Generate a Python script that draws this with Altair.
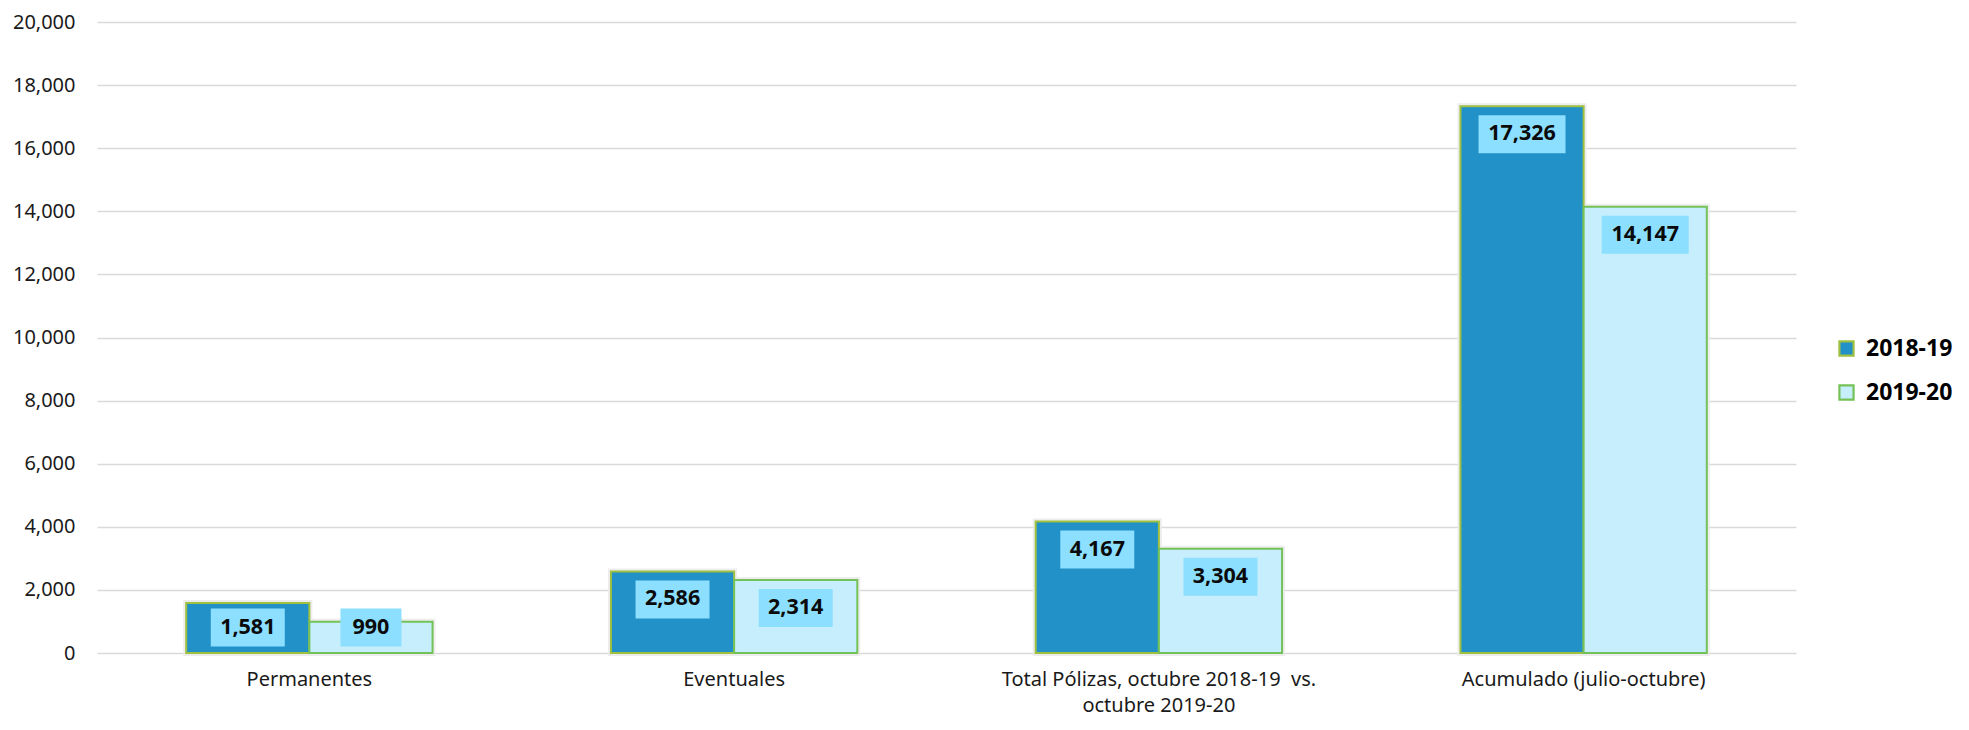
import altair as alt
import pandas as pd

categories = [
    "Permanentes",
    "Eventuales",
    "Total Pólizas, octubre 2018-19  vs.\noctubre 2019-20",
    "Acumulado (julio-octubre)",
]
series = ["2018-19", "2019-20"]
values_2018_19 = [1581, 2586, 4167, 17326]
values_2019_20 = [990, 2314, 3304, 14147]
tick_values = [0, 2000, 4000, 6000, 8000, 10000, 12000, 14000, 16000, 18000, 20000]

rows = []
for i, c in enumerate(categories):
    rows.append({"cat": c, "serie": series[0], "value": values_2018_19[i]})
    rows.append({"cat": c, "serie": series[1], "value": values_2019_20[i]})
df = pd.DataFrame(rows)

FONT = "Noto Sans"
W, H = 1699, 631
YMAX = 20000
px = YMAX / H  # data units per pixel

x_enc = alt.X(
    "cat:N",
    sort=categories,
    title=None,
    scale=alt.Scale(paddingInner=0.42, paddingOuter=0.21),
    axis=alt.Axis(
        labelExpr="split(replace(datum.label, '  ', '\u00a0 '), '\\n')",
        labelAngle=0,
        labelFontSize=20,
        labelFont=FONT,
        labelColor="#1a1a1a",
        labelPadding=16,
        labelLineHeight=26,
        labelBaseline="top",
        labelLimit=0,
        ticks=False,
        domain=False,
        grid=False,
    ),
)
xoff = alt.XOffset("serie:N", sort=series, scale=alt.Scale(paddingInner=0, paddingOuter=0))

y_scale = alt.Scale(domain=[0, YMAX], nice=False)
y_axis = alt.Axis(
    values=tick_values,
    labelExpr="format(datum.value, ',')",
    labelFontSize=20,
    labelFont=FONT,
    labelColor="#1a1a1a",
    labelPadding=22,
    ticks=False,
    domain=False,
    grid=True,
    gridColor="#d9d9d9",
    gridWidth=1.6,
    title=None,
)

color = alt.Color(
    "serie:N",
    sort=series,
    scale=alt.Scale(domain=series, range=["#2191c8", "#c6eefc"]),
    legend=alt.Legend(
        title=None,
        orient="none",
        legendX=1738,
        legendY=315,
        symbolType="square",
        symbolSize=200,
        symbolStrokeWidth=2.2,
        labelFont=FONT,
        labelFontSize=23,
        labelFontWeight="bold",
        labelColor="#000000",
        labelOffset=8,
        rowPadding=20,
    ),
)
stroke = alt.Stroke(
    "serie:N",
    sort=series,
    scale=alt.Scale(domain=series, range=["#a0c040", "#74c257"]),
    legend=alt.Legend(title=None),
)

base = alt.Chart(df)

shadow = base.mark_bar(
    fill="#ffffff", stroke="#ebebeb", strokeWidth=6, strokeOpacity=0.9
).encode(x=x_enc, xOffset=xoff, y=alt.Y("value:Q", scale=y_scale, axis=y_axis))

bars = base.mark_bar(strokeWidth=2).encode(
    x=x_enc, xOffset=xoff,
    y=alt.Y("value:Q", scale=y_scale, axis=y_axis),
    color=color, stroke=stroke,
)

lab = base.transform_calculate(
    center=f"max(datum.value, 1693) - {28 * px}",
    btop=f"max(datum.value, 1693) - {28 * px} + {19 * px}",
    bbot=f"max(datum.value, 1693) - {28 * px} - {19 * px}",
    bw="13 * length(replace(format(datum.value, ','), ',', '')) + 22",
)

boxes = lab.mark_bar(color="#8cdffe").encode(
    x=x_enc,
    xOffset=xoff,
    y=alt.Y("btop:Q", scale=y_scale, axis=y_axis),
    y2="bbot:Q",
    size=alt.Size("bw:Q", scale=None, legend=None),
)

texts = lab.mark_text(
    font=FONT, fontSize=21.5, fontWeight="bold", color="#0a0a0a", baseline="middle"
).encode(
    x=x_enc,
    xOffset=xoff,
    y=alt.Y("center:Q", scale=y_scale, axis=y_axis),
    text=alt.Text("value:Q", format=","),
)

chart = (
    alt.layer(shadow, bars, boxes, texts)
    .properties(
        width=W,
        height=H,
        autosize=alt.AutoSizeParams(type="none"),
        padding={"left": 89, "top": 14, "right": 165, "bottom": 69},
        background="white",
    )
    .configure_view(stroke=None)
)

chart.save("out.html", embed_options={"renderer": "svg", "actions": False})
